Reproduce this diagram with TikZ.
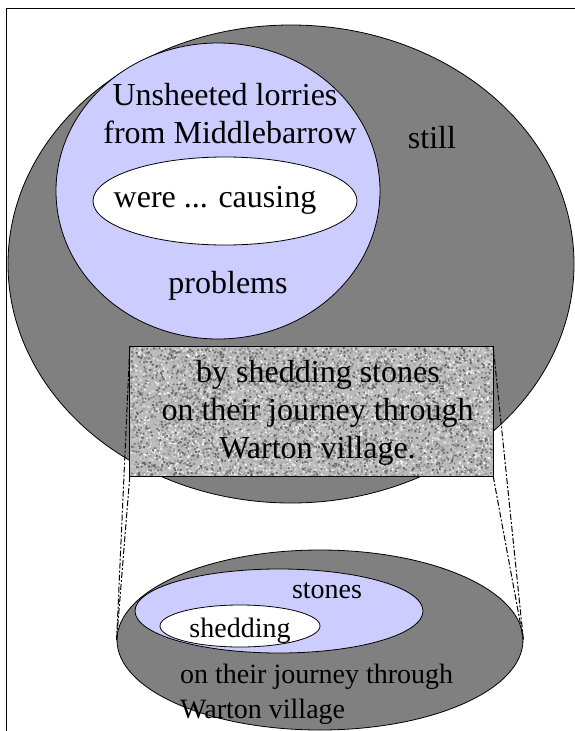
\documentclass[tikz,border=0pt]{standalone}
\usepackage{fontspec}
\setmainfont{Liberation Serif}
\usetikzlibrary{shapes.geometric}
\definecolor{lavender}{RGB}{204,204,255}
\definecolor{shade}{RGB}{128,128,128}
\tikzset{
  blob/.style={ellipse, draw=black, line width=0.8pt, inner sep=0pt},
  bigtxt/.style={inner sep=0pt, anchor=base, font=\fontsize{32}{37}\selectfont},
  smalltxt/.style={inner sep=0pt, anchor=base, font=\fontsize{28}{33}\selectfont},
  zoomline/.style={line width=1pt, dash pattern=on 6pt off 2pt on 2pt off 2pt},
}
\begin{document}
\begin{tikzpicture}[x=1pt, y=-1pt]
\useasboundingbox (0,0) rectangle (575,731);
% outer frame
\draw[line width=0.9pt] (6,731) -- (6,8) -- (575,8);

% upper group of sets
\node[blob, fill=shade, minimum width=566, minimum height=478] (outer) at (291,264) {};
\node[blob, fill=lavender, minimum width=324, minimum height=296] (agent) at (218,191) {};
\node[blob, fill=white, minimum width=264, minimum height=88] (verb) at (225,201) {};
\node[bigtxt] (t1) at (225,105) {Unsheeted lorries};
\node[bigtxt] (t2) at (230,143) {from Middlebarrow};
\node[bigtxt] (t3) at (215,207) {were ... causing};
\node[bigtxt] (t4) at (228,293) {problems};
\node[bigtxt] (t5) at (432,148) {still};

% textured box: grainy fill made of speckles in a few grey levels
\node[rectangle, fill=black!27, minimum width=363, minimum height=129, inner sep=0pt] (box) at (311.5,411.5) {};
\begin{scope}
  \clip (box.north west) rectangle (box.south east);
  \pgfmathsetseed{42}
  \foreach \g in {4,14,24,36,48,60}{
    \fill[black!\g] \foreach \i in {1,...,1400}{
      ({130+363*rnd},{347+129*rnd}) rectangle ++(1.7,1.7)
    };
  }
\end{scope}
\draw[line width=0.8pt] (box.north west) rectangle (box.south east);
\node[bigtxt] (b1) at (318,382) {by shedding stones};
\node[bigtxt] (b2) at (317.5,420) {on their journey through};
\node[bigtxt] (b3) at (317.5,458) {Warton village.};

% lower group of sets
\node[blob, fill=shade, minimum width=406, minimum height=180] (lower) at (320,640) {};
\node[blob, fill=lavender, minimum width=288, minimum height=84] (stonesset) at (279,611) {};
\node[blob, fill=white, minimum width=160, minimum height=42] (shedset) at (240,626) {};
\node[smalltxt] (s1) at (327,598) {stones};
\node[smalltxt] (s2) at (240,637) {shedding};
\node[smalltxt, anchor=base west] (s3) at (180,683) {on their journey through};
\node[smalltxt, anchor=base west] (s4) at (180,718) {Warton village};

% zoom connectors
\draw[zoomline] (box.north west) -- (lower.west);
\draw[zoomline] (box.south west) -- (lower.west);
\draw[zoomline] (box.north east) -- (lower.east);
\draw[zoomline] (box.south east) -- (lower.east);
\end{tikzpicture}
\end{document}
